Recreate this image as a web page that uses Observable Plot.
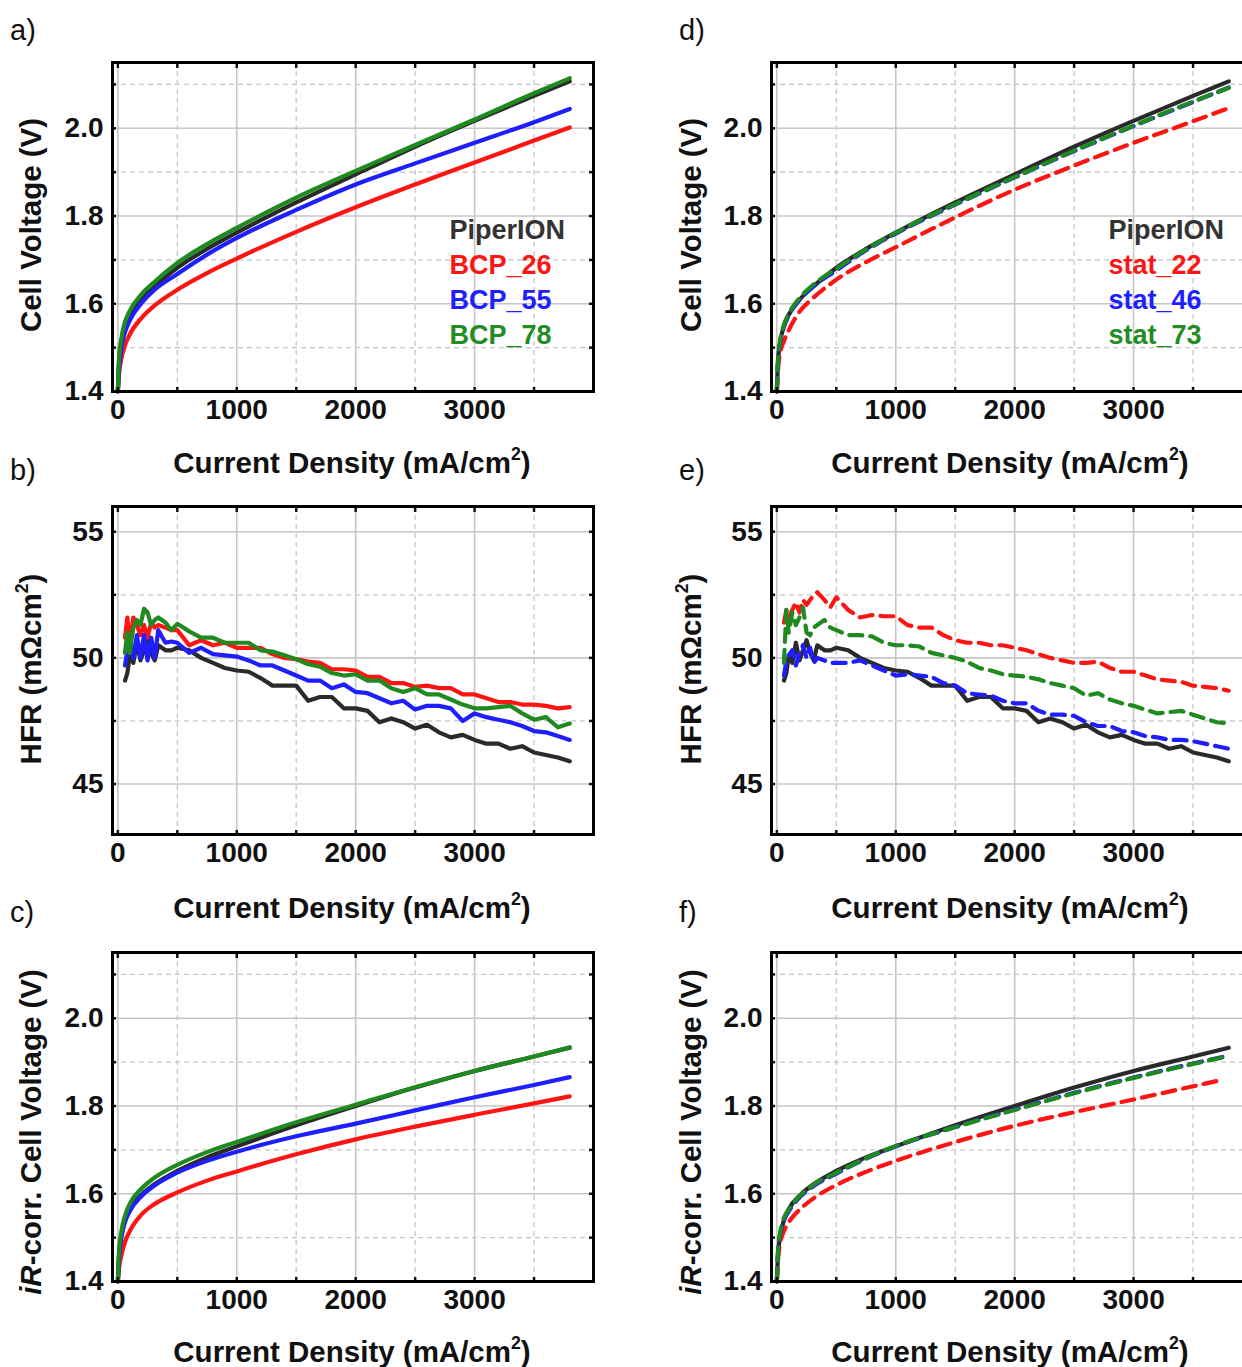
<!DOCTYPE html>
<html>
<head>
<meta charset="utf-8">
<script src="https://cdn.jsdelivr.net/npm/d3@7"></script>
<script src="https://cdn.jsdelivr.net/npm/@observablehq/plot@0.6"></script>
<style>
  html, body { margin: 0; padding: 0; background: #fff; overflow: hidden; }
  #fig { position: relative; width: 1242px; height: 1367px; overflow: hidden; font-family: "Liberation Sans", Arial, sans-serif; color: #111; }
  .pnl { position: absolute; }
  .lbl { position: absolute; white-space: nowrap; line-height: 1; }
  .letter { font-size: 29px; font-weight: normal; }
  .xt { font-size: 29.5px; font-weight: bold; transform: translate(-50%, -50%); }
  .yt { font-size: 29.5px; font-weight: bold; transform: translate(-50%, -50%) rotate(-90deg); }
  sup { font-size: 0.6em; vertical-align: 0.75em; line-height: 0; }
</style>
</head>
<body>
<div id="fig"></div>
<script>
// ---------------- data ----------------
const jPol = [0, 10, 30, 60, 100, 200, 300, 500, 750, 1000, 1500, 2000, 2500, 3000, 3500, 3800];
const jPolStat22Ir = [0, 10, 30, 60, 100, 200, 300, 500, 750, 1000, 1500, 2000, 2500, 3000, 3500, 3700];

// a) / d) cell voltage (V)
const cellPiperION = [1.40, 1.47, 1.515, 1.55, 1.575, 1.612, 1.638, 1.682, 1.725, 1.762, 1.831, 1.895, 1.958, 2.017, 2.074, 2.107];
const cellBCP26 = [1.40, 1.44, 1.475, 1.505, 1.53, 1.568, 1.594, 1.632, 1.670, 1.703, 1.764, 1.820, 1.872, 1.922, 1.972, 2.002];
const cellBCP55 = [1.40, 1.45, 1.50, 1.535, 1.562, 1.602, 1.63, 1.668, 1.712, 1.75, 1.814, 1.872, 1.92, 1.967, 2.014, 2.044];
const cellBCP78 = [1.40, 1.475, 1.522, 1.558, 1.584, 1.622, 1.648, 1.693, 1.736, 1.773, 1.842, 1.903, 1.962, 2.02, 2.08, 2.114];
const cellStat22 = [1.40, 1.45, 1.49, 1.515, 1.54, 1.585, 1.612, 1.655, 1.695, 1.729, 1.797, 1.86, 1.915, 1.967, 2.016, 2.046];
const cellStat46 = [1.40, 1.47, 1.515, 1.548, 1.573, 1.612, 1.638, 1.676, 1.722, 1.76, 1.826, 1.888, 1.948, 2.005, 2.06, 2.093];
const cellStat73 = [1.40, 1.47, 1.52, 1.552, 1.577, 1.616, 1.642, 1.68, 1.724, 1.762, 1.827, 1.889, 1.949, 2.006, 2.061, 2.092];

// c) / f) iR-corrected cell voltage (V)
const irPiperION = [1.40, 1.46, 1.505, 1.54, 1.565, 1.598, 1.62, 1.652, 1.683, 1.708, 1.756, 1.80, 1.842, 1.88, 1.913, 1.933];
const irBCP26 = [1.40, 1.43, 1.46, 1.49, 1.515, 1.553, 1.575, 1.603, 1.63, 1.651, 1.69, 1.724, 1.753, 1.78, 1.806, 1.822];
const irBCP55 = [1.40, 1.45, 1.50, 1.535, 1.56, 1.595, 1.617, 1.648, 1.675, 1.696, 1.731, 1.76, 1.79, 1.82, 1.848, 1.866];
const irBCP78 = [1.40, 1.47, 1.515, 1.55, 1.577, 1.612, 1.635, 1.666, 1.695, 1.718, 1.763, 1.803, 1.843, 1.88, 1.913, 1.934];
const irStat22 = [1.40, 1.45, 1.49, 1.515, 1.535, 1.566, 1.588, 1.62, 1.65, 1.675, 1.718, 1.755, 1.786, 1.815, 1.845, 1.857];
const irStat46 = [1.40, 1.47, 1.51, 1.54, 1.56, 1.594, 1.616, 1.646, 1.68, 1.708, 1.752, 1.792, 1.83, 1.865, 1.897, 1.915];
const irStat73 = [1.40, 1.47, 1.515, 1.545, 1.564, 1.597, 1.619, 1.648, 1.681, 1.709, 1.752, 1.791, 1.829, 1.864, 1.896, 1.914];

// b) / e) HFR (mOhm cm2)
const jHFR = [60, 80, 100, 130, 160, 190, 220, 250, 280, 310, 340, 400, 450, 500, 600, 700, 800, 900, 1000, 1100, 1200, 1300, 1400, 1500, 1600, 1700, 1800, 1900, 2000, 2100, 2200, 2300, 2400, 2500, 2600, 2700, 2800, 2900, 3000, 3100, 3200, 3300, 3400, 3500, 3600, 3700, 3800];
const hfrPiperION = [49.1, 49.4, 50.1, 49.8, 50.6, 49.9, 50.3, 50.7, 50.2, 49.9, 50.5, 50.3, 50.3, 50.4, 50.3, 50.0, 49.8, 49.6, 49.5, 49.45, 49.2, 48.9, 48.9, 48.9, 48.3, 48.45, 48.45, 48.0, 48.0, 47.9, 47.45, 47.6, 47.45, 47.2, 47.35, 47.05, 46.85, 46.95, 46.75, 46.6, 46.6, 46.4, 46.5, 46.25, 46.15, 46.05, 45.9];
const hfrBCP26 = [50.8, 51.6, 50.5, 51.6, 51.3, 50.9, 51.3, 50.8, 51.4, 51.2, 51.3, 51.2, 51.1, 51.1, 50.5, 50.7, 50.5, 50.6, 50.4, 50.4, 50.4, 50.15, 50.0, 49.95, 49.85, 49.8, 49.55, 49.55, 49.5, 49.25, 49.25, 49.0, 49.0, 48.85, 48.9, 48.8, 48.8, 48.55, 48.55, 48.4, 48.25, 48.25, 48.15, 48.15, 48.1, 48.0, 48.05];
const hfrBCP55 = [49.7, 50.3, 50.8, 50.0, 50.9, 50.0, 50.9, 49.9, 50.8, 50.0, 51.1, 50.6, 50.65, 50.6, 50.2, 50.4, 50.15, 50.1, 50.05, 49.9, 49.7, 49.7, 49.5, 49.3, 49.1, 49.1, 48.8, 48.95, 48.65, 48.6, 48.4, 48.2, 48.3, 47.95, 48.1, 48.1, 48.0, 47.5, 47.8, 47.65, 47.55, 47.45, 47.3, 47.1, 47.05, 46.9, 46.75];
const hfrBCP78 = [50.2, 51.0, 50.2, 51.2, 51.5, 51.3, 51.95, 51.8, 51.3, 51.5, 51.6, 51.4, 51.1, 51.35, 51.05, 50.8, 50.8, 50.6, 50.6, 50.6, 50.3, 50.25, 50.1, 49.95, 49.75, 49.65, 49.4, 49.3, 49.35, 49.1, 49.1, 48.8, 48.65, 48.8, 48.55, 48.55, 48.35, 48.15, 48.0, 48.0, 48.05, 48.1, 47.8, 47.55, 47.65, 47.25, 47.4];
const hfrStat22 = [51.4, 51.9, 51.6, 51.9, 52.2, 51.8, 52.3, 52.1, 52.3, 52.5, 52.6, 52.3, 52.0, 52.4, 51.9, 51.6, 51.7, 51.65, 51.65, 51.3, 51.2, 51.2, 50.9, 50.7, 50.6, 50.6, 50.5, 50.5, 50.4, 50.3, 50.15, 50.0, 49.9, 49.8, 49.8, 49.85, 49.6, 49.45, 49.45, 49.3, 49.15, 49.1, 49.05, 48.9, 48.85, 48.8, 48.7];
const hfrStat46 = [49.3, 49.9, 50.1, 50.3, 49.7, 50.2, 50.5, 50.0, 50.4, 49.8, 50.0, 49.9, 49.8, 49.8, 49.8, 49.9, 49.7, 49.5, 49.3, 49.35, 49.3, 49.25, 49.0, 48.9, 48.6, 48.55, 48.5, 48.3, 48.2, 48.2, 47.9, 47.75, 47.75, 47.7, 47.45, 47.3, 47.3, 47.1, 47.05, 46.9, 46.85, 46.75, 46.75, 46.7, 46.6, 46.5, 46.4];
const hfrStat73 = [49.8, 51.9, 51.0, 51.8, 51.3, 51.6, 52.0, 51.0, 50.9, 51.2, 51.3, 51.5, 51.2, 51.1, 50.9, 50.9, 50.85, 50.6, 50.5, 50.5, 50.45, 50.2, 50.1, 50.0, 49.85, 49.6, 49.5, 49.35, 49.3, 49.25, 49.15, 49.0, 48.9, 48.8, 48.5, 48.6, 48.35, 48.2, 48.1, 47.95, 47.8, 47.85, 47.9, 47.75, 47.6, 47.45, 47.4];

// ticks and labels
const xMajor = [0, 1000, 2000, 3000];
const xMinor = [500, 1500, 2500, 3500];
const vMajor = [1.4, 1.6, 1.8, 2.0];
const vMinor = [1.5, 1.7, 1.9, 2.1];
const hMajor = [45, 50, 55];
const hMinor = [47.5, 52.5];
const legendBCP = ["PiperION", "BCP_26", "BCP_55", "BCP_78"];
const legendStat = ["PiperION", "stat_22", "stat_46", "stat_73"];

// ---------------- styles ----------------
const COL = {
  PiperION: "#2a2a2a",
  BCP_26: "#ff1414", BCP_55: "#1e1eff", BCP_78: "#1f8a1f",
  stat_22: "#ff1414", stat_46: "#1e1eff", stat_73: "#1f8a1f"
};
const LEGCOL = ["#333333", "#ff1414", "#1e1eff", "#238c23"];

function rows(name, xs, ys) { return xs.map((x, i) => ({series: name, j: x, v: ys[i]})); }

const GRID = "#c6c6c6";
const FRAME_W = 481;

function panel(cfg) {
  const {frameLeft, frameTop, frameH, svgLeft, svgTop, yDomain, yMajor, yMinor, fmt, solid, dashed, legend, curve} = cfg;
  const marginLeft = frameLeft - svgLeft;
  const marginTop = frameTop - svgTop;
  const marginRight = 24, marginBottom = 54;
  const width = marginLeft + FRAME_W + marginRight;
  const height = marginTop + frameH + marginBottom;
  const allX = xMajor.concat(xMinor);
  const allY = yMajor.concat(yMinor);
  const marks = [
    Plot.gridX(xMajor, {stroke: GRID, strokeOpacity: 1, strokeWidth: 1.6}),
    Plot.gridX(xMinor, {stroke: GRID, strokeOpacity: 1, strokeWidth: 1.3, strokeDasharray: "5,4"}),
    Plot.gridY(yMajor, {stroke: GRID, strokeOpacity: 1, strokeWidth: 1.6}),
    Plot.gridY(yMinor, {stroke: GRID, strokeOpacity: 1, strokeWidth: 1.3, strokeDasharray: "5,4"}),
    Plot.line(solid, {x: "j", y: "v", z: "series", stroke: d => COL[d.series], strokeWidth: 4.2, curve}),
    Plot.line(dashed, {x: "j", y: "v", z: "series", stroke: d => COL[d.series], strokeWidth: 4.2, strokeDasharray: "13,8", curve}),
    Plot.axisX(xMajor, {anchor: "bottom", tickSize: 0, tickPadding: 8, label: null, tickFormat: d3.format("d"), fontSize: 28, fontWeight: "bold", fill: "#111"}),
    Plot.axisY(yMajor, {anchor: "left", tickSize: 0, tickPadding: 9, label: null, tickFormat: d3.format(fmt), fontSize: 28, fontWeight: "bold", fill: "#111"}),
    Plot.axisX(allX, {anchor: "top", tickSize: -5, tickFormat: () => "", label: null, strokeWidth: 2.5}),
    Plot.axisX(allX, {anchor: "bottom", tickSize: -4, tickFormat: () => "", label: null, strokeWidth: 2.5}),
    Plot.axisY(allY, {anchor: "left", tickSize: -4, tickFormat: () => "", label: null, strokeWidth: 2.5}),
    Plot.axisY(allY, {anchor: "right", tickSize: -5, tickFormat: () => "", label: null, strokeWidth: 2.5}),
    Plot.frame({stroke: "#000", strokeWidth: 3})
  ];
  if (legend) {
    legend.forEach((t, i) => {
      marks.push(Plot.text([t], {text: d => d, frameAnchor: "top-left", dx: 337, dy: 168 + i * 35,
        textAnchor: "start", lineAnchor: "middle", fill: LEGCOL[i], fontSize: 27, fontWeight: "bold"}));
    });
  }
  const svg = Plot.plot({
    width, height, marginLeft, marginTop, marginRight, marginBottom,
    style: {fontFamily: "'Liberation Sans', Arial, sans-serif", fontSize: "28px", fontWeight: "bold", background: "transparent", overflow: "visible"},
    x: {domain: [-45, 4000]},
    y: {domain: yDomain},
    marks
  });
  svg.classList.add("pnl");
  svg.style.left = svgLeft + "px";
  svg.style.top = svgTop + "px";
  return svg;
}

const fig = document.getElementById("fig");

const polBCP = [].concat(rows("PiperION", jPol, cellPiperION), rows("BCP_26", jPol, cellBCP26), rows("BCP_55", jPol, cellBCP55), rows("BCP_78", jPol, cellBCP78));
const hfrBCP = [].concat(rows("PiperION", jHFR, hfrPiperION), rows("BCP_26", jHFR, hfrBCP26), rows("BCP_55", jHFR, hfrBCP55), rows("BCP_78", jHFR, hfrBCP78));
const irBCP = [].concat(rows("PiperION", jPol, irPiperION), rows("BCP_26", jPol, irBCP26), rows("BCP_55", jPol, irBCP55), rows("BCP_78", jPol, irBCP78));
const polStat = [].concat(rows("stat_22", jPol, cellStat22), rows("stat_46", jPol, cellStat46), rows("stat_73", jPol, cellStat73));
const hfrStat = [].concat(rows("stat_22", jHFR, hfrStat22), rows("stat_46", jHFR, hfrStat46), rows("stat_73", jHFR, hfrStat73));
const irStat = [].concat(rows("stat_22", jPolStat22Ir, irStat22), rows("stat_46", jPol, irStat46), rows("stat_73", jPol, irStat73));

const L = 0, R = 620;
const rowTops = [62, 506, 952];
const frameHs = [329, 328, 329];

const cfgs = [
  {frameLeft: 112, col: L, row: 0, yDomain: [1.4, 2.15], yMajor: vMajor, yMinor: vMinor, fmt: ".1f", solid: polBCP, dashed: [], legend: legendBCP, curve: "monotone-x"},
  {frameLeft: 112, col: L, row: 1, yDomain: [43, 56], yMajor: hMajor, yMinor: hMinor, fmt: "d", solid: hfrBCP, dashed: [], legend: null, curve: "linear"},
  {frameLeft: 112, col: L, row: 2, yDomain: [1.4, 2.15], yMajor: vMajor, yMinor: vMinor, fmt: ".1f", solid: irBCP, dashed: [], legend: null, curve: "monotone-x"},
  {frameLeft: 771, col: R, row: 0, yDomain: [1.4, 2.15], yMajor: vMajor, yMinor: vMinor, fmt: ".1f", solid: rows("PiperION", jPol, cellPiperION), dashed: polStat, legend: legendStat, curve: "monotone-x"},
  {frameLeft: 771, col: R, row: 1, yDomain: [43, 56], yMajor: hMajor, yMinor: hMinor, fmt: "d", solid: rows("PiperION", jHFR, hfrPiperION), dashed: hfrStat, legend: null, curve: "linear"},
  {frameLeft: 771, col: R, row: 2, yDomain: [1.4, 2.15], yMajor: vMajor, yMinor: vMinor, fmt: ".1f", solid: rows("PiperION", jPol, irPiperION), dashed: irStat, legend: null, curve: "monotone-x"}
];

cfgs.forEach(c => {
  const frameTop = rowTops[c.row];
  fig.appendChild(panel({...c, frameTop, frameH: frameHs[c.row], svgLeft: c.col, svgTop: frameTop - 24}));
});

// ---------------- text labels ----------------
const letters = [["a)", 10, 16], ["b)", 10, 456], ["c)", 10, 898], ["d)", 679, 16], ["e)", 679, 456], ["f)", 679, 898]];
letters.forEach(([t, x, y]) => {
  const d = document.createElement("div");
  d.className = "lbl letter"; d.textContent = t;
  d.style.left = x + "px"; d.style.top = y + "px";
  fig.appendChild(d);
});
const xTitle = "Current Density (mA/cm<sup>2</sup>)";
const yTitles = ["Cell Voltage (V)", "HFR (m&Omega;cm<sup>2</sup>)", "<i>iR</i>-corr. Cell Voltage (V)"];
const yCenters = [225, 669, 1132];
const xTitleY = [463, 908, 1352];
[[352, 31], [1010, 691]].forEach(([xc, yc]) => {
  for (let r = 0; r < 3; r++) {
    const a = document.createElement("div");
    a.className = "lbl xt"; a.innerHTML = xTitle;
    a.style.left = xc + "px"; a.style.top = xTitleY[r] + "px";
    fig.appendChild(a);
    const b = document.createElement("div");
    b.className = "lbl yt"; b.innerHTML = yTitles[r];
    b.style.left = yc + "px"; b.style.top = yCenters[r] + "px";
    fig.appendChild(b);
  }
});
</script>
</body>
</html>
